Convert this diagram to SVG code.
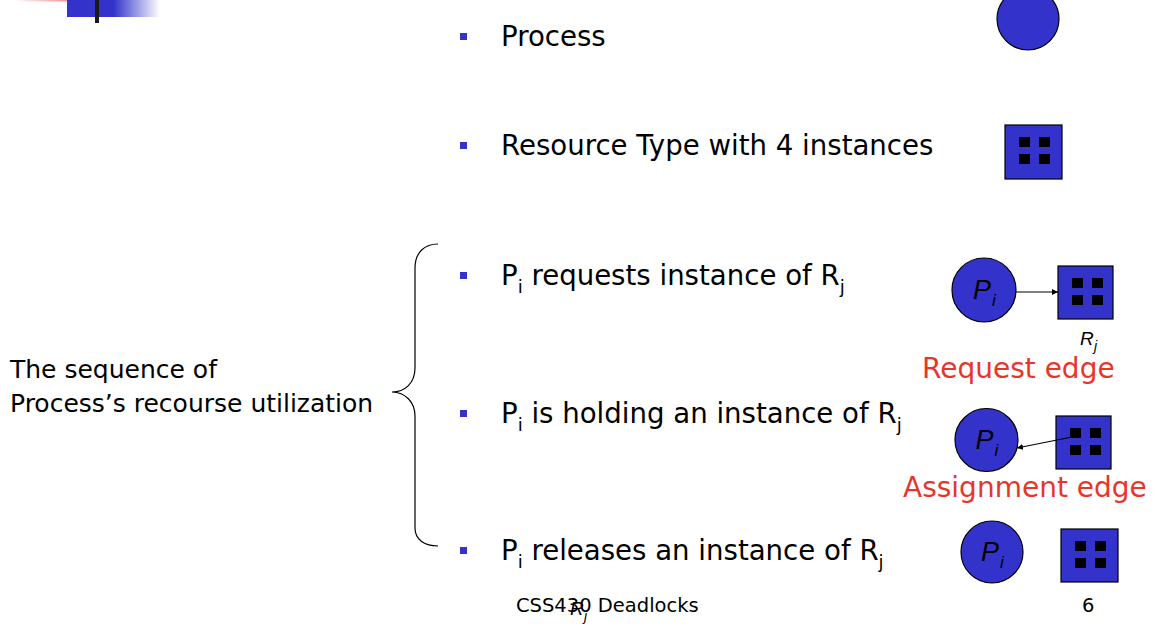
<svg xmlns="http://www.w3.org/2000/svg" width="1158" height="630" viewBox="0 0 1158 630">
<style>
.t{font-family:"DejaVu Sans","Liberation Sans",sans-serif;fill:#000}
.b{font-size:27.6px}
.sub{font-size:18px}
.red{font-family:"DejaVu Sans","Liberation Sans",sans-serif;font-size:28px;fill:#e8352a}
.it{font-family:"Liberation Sans",Arial,sans-serif;font-style:italic;fill:#000}
.node{fill:#3333cc;stroke:#000;stroke-width:1.2}
.bul{fill:#3333cc}
.edge{stroke:#000;stroke-width:1.2;fill:none}
</style>
<defs>
<linearGradient id="gBlue" x1="67" y1="0" x2="160" y2="0" gradientUnits="userSpaceOnUse">
<stop offset="0" stop-color="#3333cc"/><stop offset="0.5" stop-color="#3333cc"/><stop offset="1" stop-color="#3333cc" stop-opacity="0"/>
</linearGradient>
<linearGradient id="gPink" x1="14" y1="0" x2="85" y2="0" gradientUnits="userSpaceOnUse">
<stop offset="0" stop-color="#f07070" stop-opacity="0"/><stop offset="1" stop-color="#f07070"/>
</linearGradient>
<marker id="arr" viewBox="0 0 10 10" refX="10" refY="5" markerWidth="6" markerHeight="6" markerUnits="userSpaceOnUse" orient="auto">
<path d="M0,0 L10,5 L0,10 z" fill="#000"/>
</marker>
<g id="quad">
<rect x="14" y="12" width="11" height="10" fill="#000"/>
<rect x="34" y="12" width="11" height="10" fill="#000"/>
<rect x="14" y="29" width="11" height="10" fill="#000"/>
<rect x="34" y="29" width="11" height="10" fill="#000"/>
</g>
</defs>

<g id="decoration">
<rect x="14" y="0" width="71" height="1.5" fill="url(#gPink)"/>
<rect x="67" y="0" width="93" height="17" fill="url(#gBlue)"/>
<rect x="95" y="0" width="4" height="23" fill="#1a1a1a"/>
</g>

<g id="bullets">
<rect class="bul" x="460" y="33" width="7" height="7"/>
<text class="t b" x="501" y="46">Process</text>
<rect class="bul" x="460" y="142" width="7" height="7"/>
<text class="t b" x="501" y="155">Resource Type with 4 instances</text>
<rect class="bul" x="460" y="272" width="7" height="7"/>
<text class="t b" x="501" y="285">P<tspan class="sub" dy="8">i</tspan><tspan dy="-8"> requests instance of R</tspan><tspan class="sub" dy="8">j</tspan></text>
<rect class="bul" x="460" y="410" width="7" height="7"/>
<text class="t b" x="501" y="423">P<tspan class="sub" dy="8">i</tspan><tspan dy="-8"> is holding an instance of R</tspan><tspan class="sub" dy="8">j</tspan></text>
<rect class="bul" x="460" y="547" width="7" height="7"/>
<text class="t b" x="501" y="560">P<tspan class="sub" dy="8">i</tspan><tspan dy="-8"> releases an instance of R</tspan><tspan class="sub" dy="8">j</tspan></text>
</g>

<g id="sequence-label">
<text class="t" font-size="25" x="10" y="378">The sequence of</text>
<text class="t" font-size="25" x="10" y="412">Process’s recourse utilization</text>
<path class="edge" d="M438,244 C425,244 415,252 415,268 L415,368 C415,383 405,392 392,392 C405,392 415,402 415,416 L415,528 C415,540 425,546 438,546"/>
</g>

<g id="legend-process">
<circle class="node" cx="1028" cy="19" r="31"/>
</g>
<g id="legend-resource">
<rect class="node" x="1005" y="125" width="57" height="54"/>
<use href="#quad" x="1005" y="125"/>
</g>

<g id="req-process">
<circle class="node" cx="984" cy="290" r="32"/>
<text class="it" font-size="27" x="973" y="299">P</text>
<text class="it" font-size="17" x="992" y="306">i</text>
</g>
<g id="req-resource">
<rect class="node" x="1058" y="266" width="55" height="53"/>
<use href="#quad" x="1058" y="266"/>
<text class="it" font-size="19" x="1080" y="345">R</text>
<text class="it" font-size="14" x="1094" y="351">j</text>
</g>
<text class="red" x="922" y="378">Request edge</text>

<g id="hold-process">
<circle class="node" cx="986.5" cy="440" r="31.5"/>
<text class="it" font-size="27" x="975.5" y="449">P</text>
<text class="it" font-size="17" x="994.5" y="456">i</text>
</g>
<g id="hold-resource">
<rect class="node" x="1056" y="416" width="55" height="53"/>
<use href="#quad" x="1056" y="416"/>
</g>
<text class="red" x="903" y="497">Assignment edge</text>

<g id="rel-process">
<circle class="node" cx="992" cy="552" r="31"/>
<text class="it" font-size="27" x="981" y="561">P</text>
<text class="it" font-size="17" x="1000" y="568">i</text>
</g>
<g id="rel-resource">
<rect class="node" x="1061" y="529" width="57" height="53"/>
<use href="#quad" x="1061" y="529"/>
</g>

<g id="connectors">
<line class="edge" x1="1016" y1="292" x2="1058" y2="292" marker-end="url(#arr)"/>
<line class="edge" x1="1072" y1="437" x2="1017" y2="448" marker-end="url(#arr)"/>
</g>

<g id="footer">
<text class="t" font-size="19.5" x="516" y="612">CSS430 Deadlocks</text>
<text class="it" font-size="19" x="570" y="615">R</text>
<text class="it" font-size="14" x="584" y="621">j</text>
<text class="t" font-size="19.5" x="1082" y="612">6</text>
</g>
</svg>
